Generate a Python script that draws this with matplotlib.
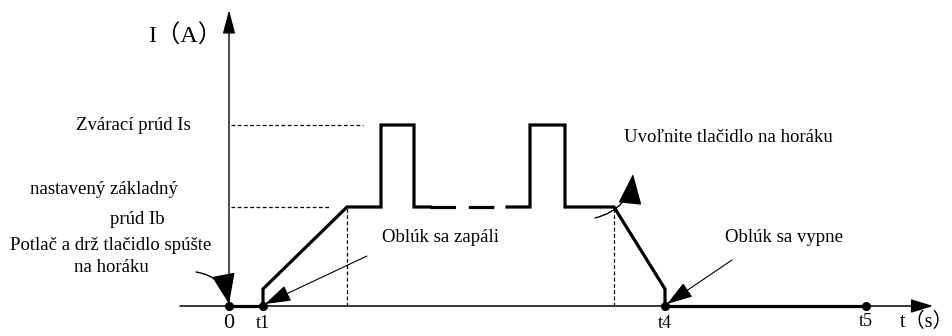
import matplotlib
matplotlib.use("Agg")
import matplotlib.pyplot as plt

# time points (arbitrary units along t) and current levels
T_ZERO = 0
T1 = 34
T_RAMP_END = 118
PULSE1 = (152, 185)
DASH_SPAN = (201, 278)
PULSE2 = (301, 336)
T_RELEASE = 385
T4 = 436
T5 = 637
I_START = 17      # small step when the arc strikes / before it goes out
I_BASE = 99       # nastavený základný prúd Ib
I_WELD = 181      # zvárací prúd Is

SERIF = ["Liberation Serif", "Noto Sans CJK SC", "DejaVu Serif"]

fig = plt.figure(figsize=(9.53, 3.36), dpi=100)
ax = fig.add_axes([0, 0, 1, 1])
ax.set_xlim(-229, 724)
ax.set_ylim(-30, 306)
ax.axis("off")

# axes with arrows
ax.annotate("", xy=(704, 0), xytext=(-49, 0),
            arrowprops=dict(arrowstyle="-|>,head_length=1.35,head_width=0.42",
                            lw=1.1, color="black", shrinkA=0, shrinkB=0, mutation_scale=10))
ax.annotate("", xy=(T_ZERO, 296), xytext=(T_ZERO, 0),
            arrowprops=dict(arrowstyle="-|>,head_length=1.45,head_width=0.38",
                            lw=1.0, color="black", shrinkA=0, shrinkB=0, mutation_scale=10))

# current waveform (thick)
thick = dict(color="black", lw=2.3, solid_joinstyle="miter")
ax.plot([T_ZERO, T1], [0, 0], **thick)
ax.plot([T1, T1, T_RAMP_END, PULSE1[0], PULSE1[0], PULSE1[1], PULSE1[1], DASH_SPAN[0]],
        [0, I_START, I_BASE, I_BASE, I_WELD, I_WELD, I_BASE, I_BASE], **thick)
ax.plot(DASH_SPAN, [I_BASE, I_BASE], color="black", lw=2.3, dashes=(8, 4), dash_capstyle="butt")
ax.plot([DASH_SPAN[1], PULSE2[0], PULSE2[0], PULSE2[1], PULSE2[1], T_RELEASE, T4, T4],
        [I_BASE, I_BASE, I_WELD, I_WELD, I_BASE, I_BASE, I_START, 0], **thick)
ax.plot([T4, T5], [0, 0], **thick)

# marker dots
ax.plot([T_ZERO, T1, T4, T5], [0, 0, 0, 0], "o", color="black", ms=5.5)

# thin dashed reference lines
thin = dict(color="black", lw=0.9, dashes=(3, 2))
ax.plot([2, 134], [I_WELD, I_WELD], **thin)
ax.plot([2, 101], [I_BASE, I_BASE], **thin)
ax.plot([T_RAMP_END, T_RAMP_END], [0, I_BASE], **thin)
ax.plot([T_RELEASE, T_RELEASE], [0, I_BASE], **thin)

# texts
FS = 13.5
ax.text(-44, 270, "I（A）", family=SERIF, fontsize=17.5, ha="center", va="center")
ax.text(-96, I_WELD, "Zvárací prúd Is", family=SERIF, fontsize=FS, ha="center", va="center")
ax.text(-125, 116, "nastavený základný", family=SERIF, fontsize=FS, ha="center", va="center")
ax.text(-92, 87, "prúd Ib", family=SERIF, fontsize=FS, ha="center", va="center")
ax.text(-118, 61, "Potlač a drž tlačidlo spúšte", family=SERIF, fontsize=FS, ha="center", va="center")
ax.text(-118, 38, "na horáku", family=SERIF, fontsize=FS, ha="center", va="center")
ax.text(212, 68, "Oblúk sa zapáli", family=SERIF, fontsize=FS, ha="center", va="center")
ax.text(499, 169, "Uvoľnite tlačidlo na horáku", family=SERIF, fontsize=FS, ha="center", va="center")
ax.text(555, 68, "Oblúk sa vypne", family=SERIF, fontsize=FS, ha="center", va="center")

ax.text(T_ZERO, -17, "0", family=SERIF, fontsize=16, ha="center", va="center")
ax.text(T1, -17, "t1", family=SERIF, fontsize=13, ha="center", va="center")
ax.text(T4, -17, "t4", family=SERIF, fontsize=13, ha="center", va="center")
ax.text(T5, -16, "t5", family=SERIF, fontsize=13, ha="center", va="center")
ax.text(698, -16, "t（s）", family=SERIF, fontsize=14.5, ha="center", va="center")

# annotation arrows
big_head = "-|>,head_length=1.3,head_width=0.5"
ax.annotate("", xy=(0, 2), xytext=(-33, 34),
            arrowprops=dict(arrowstyle=big_head, lw=1.0, color="black", mutation_scale=15,
                            connectionstyle="arc3,rad=-0.35", shrinkA=0, shrinkB=0))
ax.annotate("", xy=(T1 + 2, 2), xytext=(138, 50),
            arrowprops=dict(arrowstyle="-|>,head_length=1.25,head_width=0.4", lw=0.8,
                            color="black", shrinkA=0, shrinkB=0, mutation_scale=13))
ax.annotate("", xy=(T4 + 2, 2), xytext=(503, 46),
            arrowprops=dict(arrowstyle="-|>,head_length=1.25,head_width=0.4", lw=0.8,
                            color="black", shrinkA=0, shrinkB=0, mutation_scale=13))
ax.annotate("", xy=(404, 132), xytext=(366, 88),
            arrowprops=dict(arrowstyle=big_head, lw=1.0, color="black", mutation_scale=15,
                            connectionstyle="arc3,rad=0.35", shrinkA=0, shrinkB=0))

fig.savefig("out.png", dpi=100)
